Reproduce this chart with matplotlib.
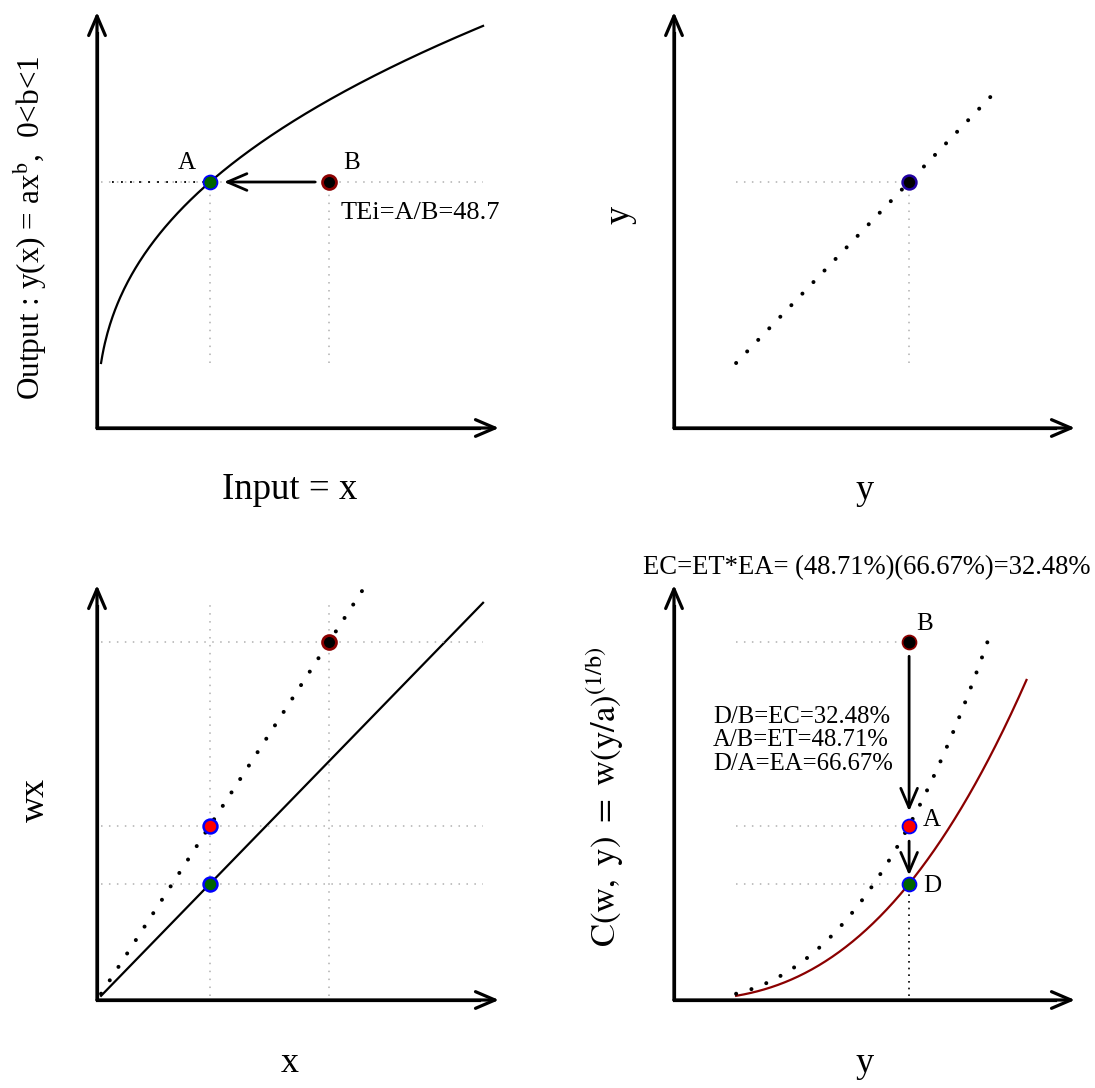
import numpy as np
import matplotlib.pyplot as plt

plt.rcParams['font.family'] = ['Liberation Serif', 'DejaVu Serif']
plt.rcParams['mathtext.fontset'] = 'stix'

# production frontier y = a x^b, cost C(w, y) = w (y/a)^(1/b)
a = 2.0
b = 0.4
w_front = 1.0    # price of the efficient cost line (solid)
w_obs = 1.5      # observed price (dotted), EA = w_front / w_obs

x_B = 10.0
x_A = 4.871                 # TEi = A/B = 48.7
x_lo, x_hi = 0.175, 16.64   # range of the frontier
x_dot_hi = 11.45            # dotted cost line leaves the panel here
y_lo, y_dot_hi, y_cost_hi = 0.9955, 5.07, 5.649

te_label = 'TEi=A/B=48.7'
ratios = ['D/B=EC=32.48%', 'A/B=ET=48.71%', 'D/A=EA=66.67%']
title_txt = 'EC=ET*EA= (48.71%)(66.67%)=32.48%'

y_A = a * x_A ** b
cost_B = w_obs * x_B
cost_A = w_obs * x_A
cost_D = w_front * x_A

W, H = 1095, 1088
fig = plt.figure(figsize=(W / 100, H / 100), dpi=100)

head = dict(arrowstyle='->, head_length=14, head_width=6', mutation_scale=1,
            shrinkA=0, shrinkB=0, color='black')


def panel(left, top, right, bottom, sx, sy):
    ax = fig.add_axes([left / W, 1 - bottom / H, (right - left) / W, (bottom - top) / H])
    xm, ym = (right - left) / sx, (bottom - top) / sy
    ax.set_xlim(0, xm)
    ax.set_ylim(0, ym)
    ax.axis('off')
    ax.plot([0, 0, xm * 0.95], [ym * 0.95, 0, 0], color='black', lw=2.3,
            solid_joinstyle='miter', clip_on=False)
    ax.annotate('', xy=(xm, 0), xytext=(0, 0), arrowprops=dict(head, lw=2.3), annotation_clip=False)
    ax.annotate('', xy=(0, ym), xytext=(0, 0), arrowprops=dict(head, lw=2.3), annotation_clip=False)
    return ax


def fig_text(px, py, s, **kw):
    fig.text(px / W, 1 - py / H, s, **kw)


gray = dict(color='#b0b0b0', lw=1.1, linestyle=(0, (1, 4.2)))
bigdots = dict(color='black', lw=2.9, linestyle=(0, (0.01, 3.96)), dash_capstyle='round')


def dot(ax, x, y, fc, ec, mew=1.3):
    ax.plot([x], [y], 'o', ms=10, mfc=fc, mec=ec, mew=mew, zorder=5, clip_on=False)


# ---- panel 1: production frontier
ax1 = panel(97, 12, 499, 428, 23.2, 65.29)
xs = np.linspace(x_lo, x_hi, 300)
ax1.plot(xs, a * xs ** b, color='black', lw=1.6)
ax1.plot([x_lo, x_hi], [y_A, y_A], **gray)
ax1.plot([x_A, x_A], [y_lo, y_A], **gray)
ax1.plot([x_B, x_B], [y_lo, y_A], **gray)
ax1.plot([0.65, x_A], [y_A, y_A], color='black', lw=1.3, linestyle=(0, (1, 4)))
ax1.annotate('', xy=(x_A + 0.6, y_A), xytext=(x_B - 0.6, y_A),
             arrowprops=dict(head, lw=2.0))
dot(ax1, x_A, y_A, '#006400', 'blue')
dot(ax1, x_B, y_A, 'black', '#8b0000', 2.0)
ax1.annotate('A', (x_A, y_A), xytext=(-16.5, 13.5), textcoords='offset points',
             ha='center', va='center', fontsize=18)
ax1.annotate('B', (x_B, y_A), xytext=(16, 13.5), textcoords='offset points',
             ha='center', va='center', fontsize=18)
ax1.annotate(te_label, (x_B, y_A), xytext=(8.5, -22), textcoords='offset points',
             ha='left', va='center', fontsize=19)
fig_text(30, 228, r'Output : y(x) = ax$^{\mathrm{b}}$,  0<b<1', rotation=90,
         ha='center', va='center', fontsize=22.5)
fig_text(290, 490, 'Input = x', ha='center', va='center', fontsize=26.5)

# ---- panel 2: y against y
ax2 = panel(674, 12, 1075, 428, 62.4, 65.29)
ys = np.linspace(y_lo, y_dot_hi, 200)
ax2.plot(ys, ys, **bigdots)
ax2.plot([y_lo, y_A], [y_A, y_A], **gray)
ax2.plot([y_A, y_A], [y_lo, y_A], **gray)
dot(ax2, y_A, y_A, 'black', '#2000a0', 1.8)
fig_text(620, 215, 'y', rotation=90, ha='center', va='center', fontsize=26)
fig_text(865, 490, 'y', ha='center', va='center', fontsize=26)

# ---- panel 3: cost lines wx
ax3 = panel(97, 585, 499, 1000, 23.2, 23.87)
ax3.plot(xs, w_front * xs, color='black', lw=1.6)
xd = np.linspace(x_lo, x_dot_hi, 200)
ax3.plot(xd, w_obs * xd, **bigdots)
for c in (cost_B, cost_A, cost_D):
    ax3.plot([x_lo, x_hi], [c, c], **gray)
for xv in (x_A, x_B):
    ax3.plot([xv, xv], [w_front * x_lo, w_front * x_hi], **gray)
dot(ax3, x_A, cost_A, 'red', 'blue', 1.8)
dot(ax3, x_A, cost_D, '#006400', 'blue', 1.8)
dot(ax3, x_B, cost_B, 'black', '#8b0000', 2.0)
fig_text(35, 800, 'wx', rotation=90, ha='center', va='center', fontsize=26)
fig_text(290, 1063, 'x', ha='center', va='center', fontsize=26)

# ---- panel 4: cost function
ax4 = panel(674, 585, 1075, 1000, 62.4, 23.87)
yc = np.linspace(y_lo, y_cost_hi, 300)
ax4.plot(yc, w_front * (yc / a) ** (1 / b), color='#8b0000', lw=1.6)
yd = np.linspace(y_lo, y_dot_hi, 300)
ax4.plot(yd, w_obs * (yd / a) ** (1 / b), **bigdots)
for c in (cost_B, cost_A, cost_D):
    ax4.plot([y_lo, y_A], [c, c], **gray)
ax4.plot([y_A, y_A], [w_front * x_lo, cost_D], color='black', lw=1.2, linestyle=(0, (1, 3)))
ax4.annotate('', xy=(y_A, cost_A + 0.6), xytext=(y_A, cost_B - 0.6),
             arrowprops=dict(head, lw=2.0))
ax4.annotate('', xy=(y_A, cost_D + 0.35), xytext=(y_A, cost_A - 0.65),
             arrowprops=dict(head, lw=2.0))
dot(ax4, y_A, cost_B, 'black', '#8b0000', 1.3)
dot(ax4, y_A, cost_A, 'red', 'blue', 1.3)
dot(ax4, y_A, cost_D, '#006400', 'blue', 1.3)
ax4.annotate('B', (y_A, cost_B), xytext=(11, 13), textcoords='offset points',
             ha='center', va='center', fontsize=18)
ax4.annotate('A', (y_A, cost_A), xytext=(16.5, 4.3), textcoords='offset points',
             ha='center', va='center', fontsize=18)
ax4.annotate('D', (y_A, cost_D), xytext=(16.5, -1.5), textcoords='offset points',
             ha='center', va='center', fontsize=18)
for i, s in enumerate(ratios):
    fig_text(713, 717 + 23.5 * i, s, ha='left', va='center', fontsize=17.8)
fig_text(867, 568, title_txt, ha='center', va='center', fontsize=19.2)
fig_text(605, 797,
         r'$\mathrm{C}\left(\mathrm{w,\ y}\right)\ =\ \mathrm{w}\left(\mathrm{y/a}\right)^{\mathrm{(1/b)}}$',
         rotation=90, ha='center', va='center', fontsize=25)
fig_text(865, 1063, 'y', ha='center', va='center', fontsize=26)

fig.savefig('out.png', dpi=100)
